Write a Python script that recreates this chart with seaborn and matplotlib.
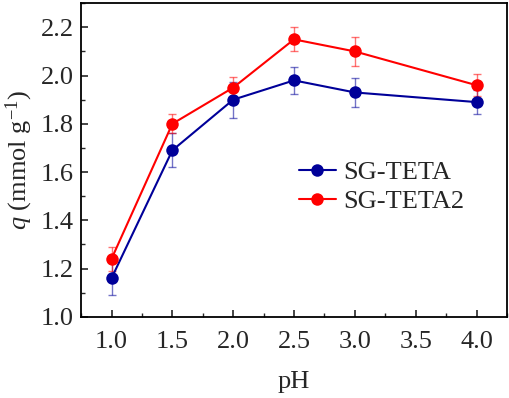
import matplotlib
matplotlib.use('Agg')
import matplotlib.pyplot as plt
import seaborn as sns
import pandas as pd
import numpy as np
from matplotlib.ticker import MultipleLocator

# data
ph = [1.0, 1.5, 2.0, 2.5, 3.0, 4.0]
q_teta = [1.16, 1.69, 1.90, 1.98, 1.93, 1.89]
err_teta = [0.07, 0.07, 0.075, 0.055, 0.06, 0.05]
q_teta2 = [1.24, 1.80, 1.95, 2.15, 2.10, 1.96]
err_teta2 = [0.05, 0.04, 0.045, 0.05, 0.06, 0.045]
names = ['SG-TETA', 'SG-TETA2']
colors = ['#000099', '#ff0000']

df = pd.DataFrame({
    'pH': ph + ph,
    'q': q_teta + q_teta2,
    'err': err_teta + err_teta2,
    'sample': [names[0]] * len(ph) + [names[1]] * len(ph),
})

sns.set_style('ticks')
plt.rcParams['font.family'] = ['Liberation Serif', 'DejaVu Serif']
plt.rcParams['mathtext.fontset'] = 'custom'
plt.rcParams['mathtext.rm'] = 'Liberation Serif'
plt.rcParams['mathtext.it'] = 'Liberation Serif:italic'

fs = 19

fig, ax = plt.subplots(figsize=(5.10, 3.98), dpi=100)

# error bars (lighter) under the lines
for name, c in zip(names, colors):
    sub = df[df['sample'] == name]
    ax.errorbar(sub['pH'], sub['q'], yerr=sub['err'], fmt='none',
                ecolor=c, alpha=0.55, elinewidth=1.0, capsize=3, capthick=1.0, zorder=2)

sns.lineplot(data=df, x='pH', y='q', hue='sample', palette=colors,
             marker='o', markersize=9, markeredgewidth=0, linewidth=1.5,
             ax=ax, zorder=3)

ax.set_xlim(0.75, 4.25)
ax.set_ylim(1.0, 2.3)
ax.xaxis.set_minor_locator(MultipleLocator(0.25))
ax.yaxis.set_minor_locator(MultipleLocator(0.1))
ax.set_xticks([1.0, 1.5, 2.0, 2.5, 3.0, 3.5, 4.0])
ax.set_xticklabels(['1.0', '1.5', '2.0', '2.5', '3.0', '3.5', '4.0'])
ax.set_yticks([1.0, 1.2, 1.4, 1.6, 1.8, 2.0, 2.2])
ax.set_yticklabels(['1.0', '1.2', '1.4', '1.6', '1.8', '2.0', '2.2'])
ax.tick_params(which='major', direction='in', length=5, width=1.2, labelsize=fs,
               top=False, right=False)
ax.tick_params(axis='x', which='major', pad=10)
ax.tick_params(axis='y', which='major', pad=5)
ax.tick_params(which='minor', direction='in', length=3, width=1.0, top=False, right=False)
for s in ax.spines.values():
    s.set_linewidth(1.3)
    s.set_color('black')

ax.set_xlabel('pH', fontsize=fs, labelpad=13)
ax.set_ylabel(r'$q$ (mmol g$^{-1}$)', fontsize=fs, labelpad=4)

leg = ax.legend(loc='center left', bbox_to_anchor=(0.455, 0.415), frameon=False,
                fontsize=fs, handlelength=1.4, handletextpad=0.3, labelspacing=0.2)

fig.subplots_adjust(left=0.159, right=0.994, top=0.992, bottom=0.204)
fig.savefig('out.png', dpi=100)
